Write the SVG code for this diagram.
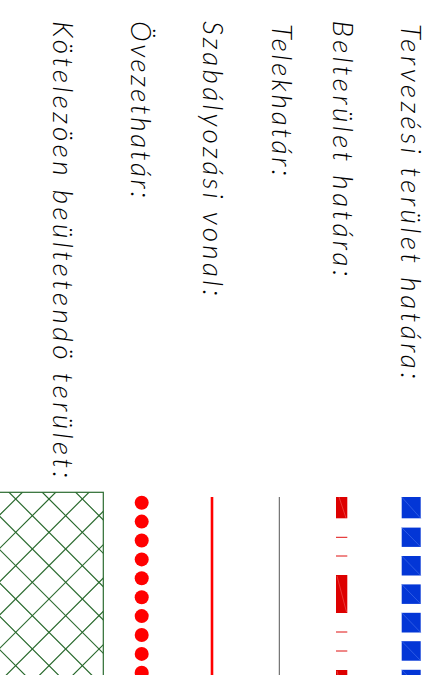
<svg xmlns="http://www.w3.org/2000/svg" width="438" height="675" viewBox="0 0 438 675">
<style>
.lbl{font-family:Lato,"DejaVu Sans",sans-serif;font-weight:300;font-style:italic;font-size:28px;fill:#000;}
.bsq{fill:#0336d6;}
.bdg{stroke:#3d68e8;stroke-width:0.7;}
.rrc{fill:#dd0000;}
.rdg{stroke:#f04a4a;stroke-width:0.7;}
.rln{stroke:#e01010;stroke-width:1;}
.dot{fill:#ff0000;}
.hat{stroke:#2b6b2f;stroke-width:1.2;fill:none;}
</style>
<defs>
<clipPath id="hclip"><rect x="-5" y="492.3" width="108.3" height="190"/></clipPath>
</defs>
<rect width="438" height="675" fill="#ffffff"/>

<g id="tervezesi">
<text class="lbl" transform="translate(401,24) rotate(90)" textLength="355" lengthAdjust="spacing">Tervezési terület határa:</text>
<rect class="bsq" x="401.7" y="497" width="19" height="21.3"/>
<line class="bdg" x1="401.7" y1="497" x2="420.7" y2="518.3"/>
<rect class="bsq" x="401.7" y="527.6" width="19" height="19.3"/>
<line class="bdg" x1="401.7" y1="527.6" x2="420.7" y2="546.9"/>
<rect class="bsq" x="401.7" y="556" width="19" height="19.5"/>
<line class="bdg" x1="401.7" y1="556" x2="420.7" y2="575.5"/>
<rect class="bsq" x="401.7" y="584.4" width="19" height="19.5"/>
<line class="bdg" x1="401.7" y1="584.4" x2="420.7" y2="603.9"/>
<rect class="bsq" x="401.7" y="612.8" width="19" height="19.7"/>
<line class="bdg" x1="401.7" y1="612.8" x2="420.7" y2="632.5"/>
<rect class="bsq" x="401.7" y="641.2" width="19" height="19.5"/>
<line class="bdg" x1="401.7" y1="641.2" x2="420.7" y2="660.7"/>
<rect class="bsq" x="401.7" y="669.8" width="19" height="19.5"/>
<line class="bdg" x1="401.7" y1="669.8" x2="420.7" y2="689.3"/>
</g>

<g id="belterulet">
<text class="lbl" transform="translate(333,20.5) rotate(90)" textLength="256" lengthAdjust="spacing">Belterület határa:</text>
<rect class="rrc" x="336" y="497" width="11.3" height="21.3"/>
<line class="rdg" x1="339" y1="497" x2="346" y2="518"/>
<line class="rln" x1="336" y1="537.3" x2="347.3" y2="537.3"/>
<line class="rln" x1="336" y1="556" x2="347.3" y2="556"/>
<rect class="rrc" x="336" y="575" width="11.3" height="38"/>
<line class="rdg" x1="337" y1="576" x2="346.5" y2="612"/>
<line class="rln" x1="336" y1="632" x2="347.3" y2="632"/>
<line class="rln" x1="336" y1="651" x2="347.3" y2="651"/>
<rect class="rrc" x="336" y="670" width="11.3" height="38"/>
<line class="rdg" x1="337" y1="671" x2="346.5" y2="707"/>
</g>

<g id="telekhatar">
<text class="lbl" transform="translate(272,24) rotate(90)" textLength="152" lengthAdjust="spacing">Telekhatár:</text>
<line x1="279.3" y1="497" x2="279.3" y2="675" stroke="#555555" stroke-width="1"/>
</g>

<g id="szabalyozasi">
<text class="lbl" transform="translate(203,21) rotate(90)" textLength="275" lengthAdjust="spacing">Szabályozási vonal:</text>
<line x1="212" y1="497" x2="212" y2="675" stroke="#ff0000" stroke-width="2.6"/>
</g>

<g id="ovezethatar">
<text class="lbl" transform="translate(131,21) rotate(90)" textLength="177" lengthAdjust="spacing">Övezethatár:</text>
<circle class="dot" cx="141.7" cy="502.7" r="7"/>
<circle class="dot" cx="141.7" cy="521.6" r="7"/>
<circle class="dot" cx="141.7" cy="540.5" r="7"/>
<circle class="dot" cx="141.7" cy="559.4" r="7"/>
<circle class="dot" cx="141.7" cy="578.3" r="7"/>
<circle class="dot" cx="141.7" cy="597.2" r="7"/>
<circle class="dot" cx="141.7" cy="616.1" r="7"/>
<circle class="dot" cx="141.7" cy="635" r="7"/>
<circle class="dot" cx="141.7" cy="653.9" r="7"/>
<circle class="dot" cx="141.7" cy="672.8" r="7"/>
</g>

<g id="kotelezoen">
<text class="lbl" transform="translate(53,21) rotate(90)" textLength="457" lengthAdjust="spacing">Kötelezöen beültetendö terület:</text>
<g clip-path="url(#hclip)">
<path class="hat" d="M-200,681.3L300,181.3M-200,714.7L300,214.7M-200,748L300,248M-200,781.3L300,281.3M-200,814.7L300,314.7M-200,848L300,348M-200,881.3L300,381.3M-200,914.7L300,414.7M-200,948L300,448M-200,981.3L300,481.3"/>
<path class="hat" d="M-200,483.3L300,983.3M-200,450L300,950M-200,416.6L300,916.6M-200,383.3L300,883.3M-200,350L300,850M-200,316.6L300,816.6M-200,283.3L300,783.3M-200,250L300,750M-200,216.6L300,716.6M-200,183.3L300,683.3"/>
</g>
<rect class="hat" x="-5" y="492.3" width="108.3" height="200"/>
</g>
</svg>
